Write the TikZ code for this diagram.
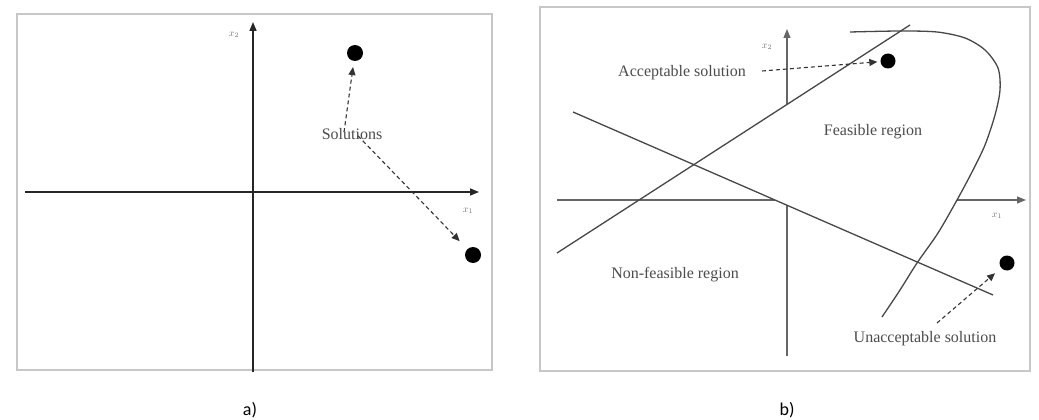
\documentclass[tikz,border=0pt]{standalone}
\usepackage{fontspec}
\setmainfont{Liberation Serif}
\newfontfamily\capfont{Carlito}
\usetikzlibrary{arrows.meta}
\begin{document}
\begin{tikzpicture}[x=1pt,y=-1pt,
 frame/.style={draw=black!22,line width=2.4pt},
 axisA/.style={line width=1.6pt,draw=black!85},
 axisB/.style={line width=1.1pt,draw=black!60},
 tipA/.style={-{Triangle[length=9pt,width=7pt]}},
 bline/.style={line width=1.3pt,draw=black!72},
 dotA/.style={circle,fill=black,inner sep=0pt,minimum size=16pt},
 dotB/.style={circle,fill=black,inner sep=0pt,minimum size=15pt},
 lbl/.style={font=\fontsize{16}{18}\selectfont,text=black!70,inner sep=0pt},
 axlbl/.style={font=\fontsize{10}{12}\selectfont,text=black!55,inner sep=0pt},
 dasharrow/.style={dash pattern=on 4pt off 3pt,line width=1.1pt,draw=black!80,-{Triangle[length=8pt,width=7pt]}},
 captxt/.style={font=\capfont\fontsize{18}{20}\selectfont,inner sep=0pt}]
\useasboundingbox (0,0) rectangle (1039,420);
\fill[white] (0,0) rectangle (1039,420);

% ---------- panel a ----------
\draw[frame] (17,14) rectangle (492,370);
\coordinate (aYb) at (253,372);
\coordinate (aYt) at (253,22);
\coordinate (aXl) at (25,192);
\coordinate (aXr) at (479,192);
\draw[axisA,tipA] (aYb) -- (aYt);
\draw[axisA,tipA] (aXl) -- (aXr);
\node[axlbl] (ax2) at (234,35) {$x_2$};
\node[axlbl] (ax1) at (468,211) {$x_1$};
\node[dotA] (ad1) at (355,53) {};
\node[dotA] (ad2) at (473,255) {};
\node[lbl] (asol) at (352,134) {Solutions};
\draw[dasharrow,shorten >=6pt] ([xshift=-8pt,yshift=-4pt]asol.north) -- (ad1);
\draw[dasharrow,shorten >=11pt] ([xshift=6pt,yshift=4pt]asol.south) -- (ad2);
\node[captxt] (capa) at (250,410) {a)};

% ---------- panel b ----------
\draw[frame] (540,7) rectangle (1030,371);
% axes, hidden inside the feasible region
\coordinate (bYb) at (787,356);
\coordinate (bYm1) at (787,205);
\coordinate (bYm2) at (787,104);
\coordinate (bYt) at (787,29);
\coordinate (bXl) at (557,200);
\coordinate (bXm1) at (775,200);
\coordinate (bXm2) at (957,200);
\coordinate (bXr) at (1026,200);
\draw[axisB] (bYb) -- (bYm1);
\draw[axisB,tipA] (bYm2) -- (bYt);
\draw[axisB] (bXl) -- (bXm1);
\draw[axisB,tipA] (bXm2) -- (bXr);
\node[axlbl] (bx2) at (767,47) {$x_2$};
\node[axlbl] (bx1) at (997,216) {$x_1$};
\coordinate (l1a) at (557,253);
\coordinate (l1b) at (910,25);
\coordinate (l2a) at (573,112);
\coordinate (l2b) at (993,295);
\draw[bline] (l1a) -- (l1b);
\draw[bline] (l2a) -- (l2b);
\draw[bline] plot[smooth] coordinates {(850,32) (900,31) (937,32) (965,38) (985,50) (998,68) (1000,90) (995,115) (985,145) (972,172) (957,200) (938,233) (917,263) (900,290) (882,317)};
\node[dotB] (bd1) at (888,61) {};
\node[dotB] (bd2) at (1007,263) {};
\node[lbl] (bacc) at (682,73) {Acceptable solution};
\node[lbl] (bfea) at (873,132) {Feasible region};
\node[lbl] (bnon) at (675,275) {Non-feasible region};
\node[lbl] (bunc) at (925,339) {Unacceptable solution};
\coordinate (baccs) at (762,71);
\coordinate (buncs) at (937,323);
\draw[dasharrow,shorten >=3pt] (baccs) -- (bd1);
\draw[dasharrow,shorten >=8pt] (buncs) -- (bd2);
\node[captxt] (capb) at (787,410) {b)};
\end{tikzpicture}
\end{document}
